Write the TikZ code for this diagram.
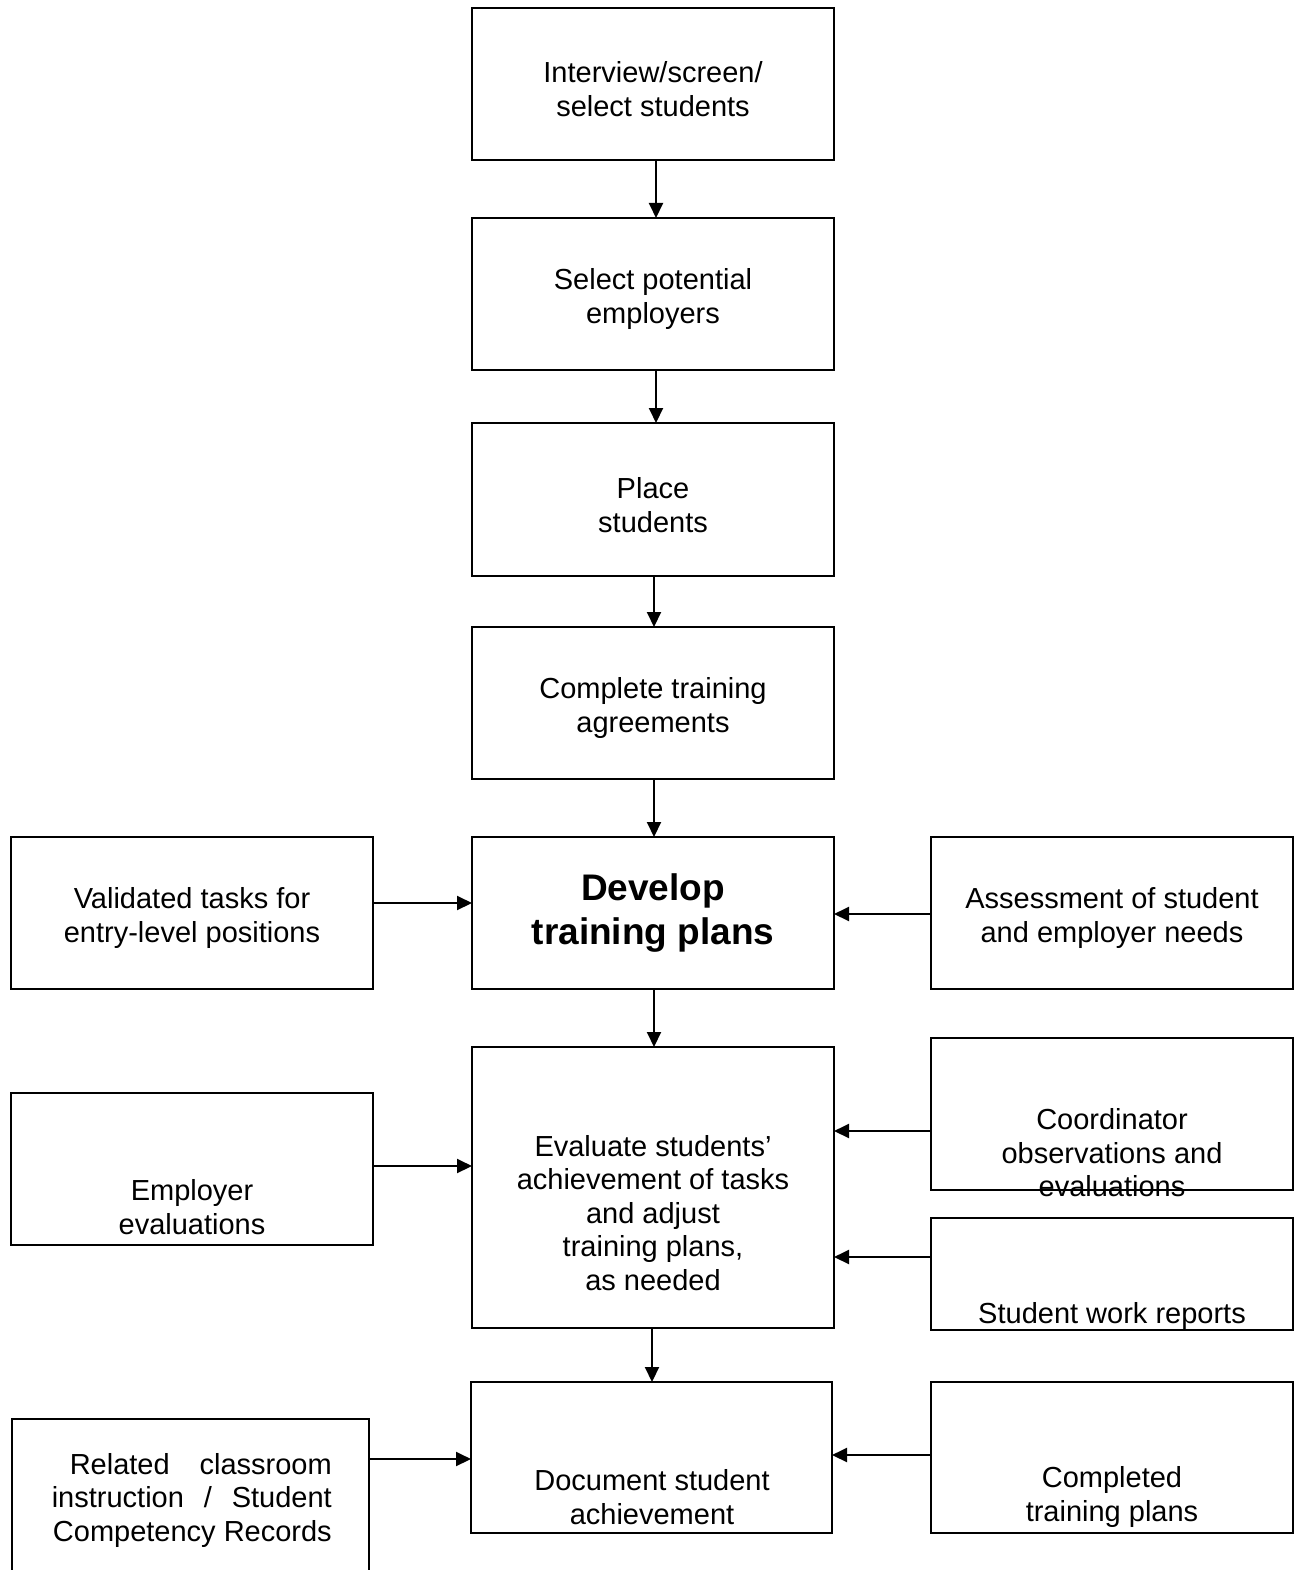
\documentclass[tikz,border=0pt]{standalone}
\usepackage{fontspec}
\setmainfont{Liberation Sans}
\usetikzlibrary{arrows.meta}
\tikzset{
  box/.style={draw, line width=2pt, inner sep=0pt, outer sep=0pt},
  txt/.style={align=center, inner sep=0pt, font=\fontsize{29}{33.5}\selectfont},
  bigtxt/.style={align=center, inner sep=0pt, font=\fontsize{37}{43.5}\selectfont\bfseries},
  arr/.style={line width=2pt, -{Triangle[length=15pt,width=14pt]}, shorten >=0pt}
}
\newcommand{\bx}[5]{\node[box, minimum width={#4-#2}, minimum height={#5-#3}] (#1) at ({(#2+#4)/2},{(#3+#5)/2}) {};}
\begin{document}
\begin{tikzpicture}[x=1pt,y=-1pt]
\useasboundingbox (0,0) rectangle (1297,1570);
% central column
\bx{b1}{472}{8}{834}{160}
\bx{b2}{472}{218}{834}{370}
\bx{b3}{472}{423}{834}{576}
\bx{b4}{472}{627}{834}{779}
\bx{dev}{472}{837}{834}{989}
\bx{evl}{472}{1047}{834}{1328}
\bx{doc}{471}{1382}{832}{1533}
% left
\bx{val}{11}{837}{373}{989}
\bx{emp}{11}{1093}{373}{1245}
\bx{rel}{12}{1419}{369}{1585}
% right
\bx{ass}{931}{837}{1293}{989}
\bx{coo}{931}{1038}{1293}{1190}
\bx{swr}{931}{1218}{1293}{1330}
\bx{cmp}{931}{1382}{1293}{1533}
% texts
\node[txt] (t1) at (653,89) {Interview/screen/\\select students};
\node[txt] (t2) at (653,299) {Select potential\\employers};
\node[txt] (t3) at (653,505) {Place\\students};
\node[txt] (t4) at (653,708) {Complete training\\agreements};
\node[bigtxt] (t5) at (653,913) {Develop\\training plans};
\node[txt] (t6) at (653,1213) {Evaluate students'\\achievement of tasks\\and adjust\\training plans,\\as needed};
\node[txt] (t7) at (652,1497) {Document student\\achievement};
\node[txt] (tv) at (192,918) {Validated tasks for\\entry-level positions};
\node[txt] (te) at (192,1207) {Employer\\evaluations};
\node[txt, align=right, anchor=east] (tr) at (332,1500) {\makebox[262pt][s]{Related\hfill classroom}\\\makebox[280pt][s]{instruction\hfill /\hfill Student}\\Competency Records};
\node[txt] (ta) at (1112,918) {Assessment of student\\and employer needs};
\node[txt] (tc) at (1112,1153) {Coordinator\\observations and\\evaluations};
\node[txt] (ts) at (1112,1316) {Student work reports};
\node[txt] (tp) at (1112,1497) {Completed\\training plans};
% vertical arrows
\draw[arr] (b1.south -| 656,0) -- (b2.north -| 656,0);
\draw[arr] (b2.south -| 656,0) -- (b3.north -| 656,0);
\draw[arr] (b3.south -| 654,0) -- (b4.north -| 654,0);
\draw[arr] (b4.south -| 654,0) -- (dev.north -| 654,0);
\draw[arr] (dev.south -| 654,0) -- (evl.north -| 654,0);
\draw[arr] (evl.south -| 652,0) -- (doc.north -| 652,0);
% horizontal arrows
\draw[arr] (val.east |- 0,903) -- (dev.west |- 0,903);
\draw[arr] (ass.west |- 0,914) -- (dev.east |- 0,914);
\draw[arr] (emp.east |- 0,1166) -- (evl.west |- 0,1166);
\draw[arr] (coo.west |- 0,1131) -- (evl.east |- 0,1131);
\draw[arr] (swr.west |- 0,1257) -- (evl.east |- 0,1257);
\draw[arr] (rel.east |- 0,1459) -- (doc.west |- 0,1459);
\draw[arr] (cmp.west |- 0,1455) -- (doc.east |- 0,1455);
\end{tikzpicture}
\end{document}
